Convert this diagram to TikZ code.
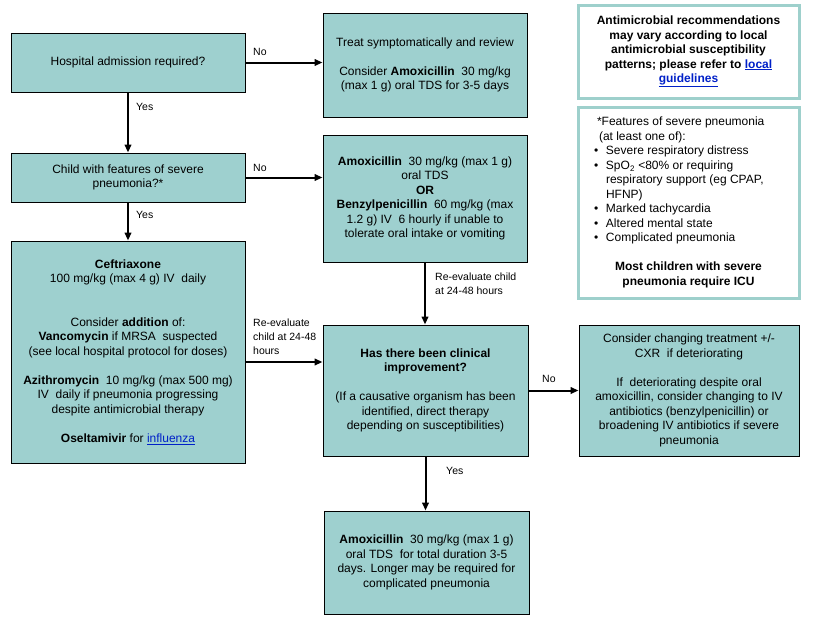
\documentclass[tikz,border=0pt]{standalone}
\usepackage{fontspec}
\setmainfont{Liberation Sans}
\usetikzlibrary{arrows.meta,calc}
\definecolor{boxfill}{RGB}{158,208,207}
\definecolor{infoline}{RGB}{158,208,204}
\definecolor{linkblue}{RGB}{0,32,200}
\newcommand{\lnk}[1]{\textcolor{linkblue}{\underline{#1}}}
\begin{document}
\begin{tikzpicture}[x=1pt,y=-1pt,
  box/.style={draw=black, line width=0.9pt, fill=boxfill, align=center, inner sep=0pt, font=\fontsize{12}{14.5}\selectfont},
  info/.style={draw=infoline, line width=3pt, fill=white, inner sep=0pt, font=\fontsize{12}{14.5}\selectfont},
  lbl/.style={anchor=west, inner sep=0pt, align=left, font=\fontsize{10.5}{14}\selectfont},
  arr/.style={line width=2pt, -{Triangle[length=8pt,width=6.5pt]}}
]
\useasboundingbox (0,0) rectangle (817,627);
\fill[white] (0,0) rectangle (817,627);

\node[box, minimum width=234pt, minimum height=59pt] (b1) at (128,62.5) {Hospital admission required?};
\node[box, minimum width=204pt, minimum height=104pt] (b2) at (425,65) {Treat symptomatically and review\\[14.5pt]Consider \textbf{Amoxicillin}~ 30 mg/kg\\(max 1 g) oral TDS for 3-5 days};
\node[box, minimum width=234pt, minimum height=49pt] (b3) at (128,177.5) {Child with features of severe\\pneumonia?*};
\node[box, minimum width=204pt, minimum height=127pt] (b4) at (425,198.5) {\textbf{Amoxicillin}~ 30 mg/kg (max 1 g)\\oral TDS\\\textbf{OR}\\\textbf{Benzylpenicillin}~ 60 mg/kg (max\\1.2 g) IV~ 6 hourly if unable to\\tolerate oral intake or vomiting};
\node[box, minimum width=234pt, minimum height=222pt] (b5) at (128,352) {\textbf{Ceftriaxone}\\100 mg/kg (max 4 g) IV~ daily\\[29pt]Consider \textbf{addition} of:\\\textbf{Vancomycin} if MRSA~ suspected\\(see local hospital protocol for doses)\\[14.5pt]\textbf{Azithromycin}~ 10 mg/kg (max 500 mg)\\IV~ daily if pneumonia progressing\\despite antimicrobial therapy\\[14.5pt]\textbf{Oseltamivir} for \lnk{influenza}};
\node[box, minimum width=205pt, minimum height=131pt] (b6) at (425.5,390.5) {\textbf{Has there been clinical}\\\textbf{improvement?}\\[14.5pt](If a causative organism has been\\identified, direct therapy\\depending on susceptibilities)};
\node[box, minimum width=220pt, minimum height=131pt] (b7) at (689,390.5) {Consider changing treatment +/-\\CXR~ if deteriorating\\[14.5pt]If~ deteriorating despite oral\\amoxicillin, consider changing to IV\\antibiotics (benzylpenicillin) or\\broadening IV antibiotics if severe\\pneumonia};
\node[box, minimum width=205pt, minimum height=103pt] (b8) at (426.5,562.5) {\textbf{Amoxicillin}~ 30 mg/kg (max 1 g)\\oral TDS~ for total duration 3-5\\days. Longer may be required for\\complicated pneumonia};

\node[info, minimum width=221pt, minimum height=93pt, align=center, font=\bfseries\fontsize{12}{14.5}\selectfont] (iA) at (688.5,51.5) {Antimicrobial recommendations\\may vary according to local\\antimicrobial susceptibility\\patterns; please refer to \lnk{local}\\\lnk{guidelines}};
\node[info, minimum width=221pt, minimum height=191pt] (iB) at (688.5,202.5) {\begin{minipage}{189pt}\raggedright
\hspace*{3pt}*Features of severe pneumonia\\
\hspace*{5pt}(at least one of):\\
\makebox[12pt][l]{\textbullet}Severe respiratory distress\\
\makebox[12pt][l]{\textbullet}SpO\textsubscript{2} <80\% or requiring\\
\hspace*{12pt}respiratory support (eg CPAP,\\
\hspace*{12pt}HFNP)\\
\makebox[12pt][l]{\textbullet}Marked tachycardia\\
\makebox[12pt][l]{\textbullet}Altered mental state\\
\makebox[12pt][l]{\textbullet}Complicated pneumonia\par
\vspace{14.5pt}
\centering\bfseries Most children with severe\\pneumonia require ICU
\end{minipage}};

\draw[arr] (b1.east) -- (b1.east -| b2.west);
\draw[arr] (b1.south) -- (b3.north);
\draw[arr] (b3.east) -- (b3.east -| b4.west);
\draw[arr] (b3.south) -- (b5.north);
\draw[arr] (b4.south) -- (b4.south |- b6.north);
\coordinate (r1) at (0,362);
\draw[arr] (b5.east |- r1) -- (b6.west |- r1);
\draw[arr] (b6.east) -- (b6.east -| b7.west);
\draw[arr] (b6.south) -- (b6.south |- b8.north);

\node[lbl] (n1) at (253,52) {No};
\node[lbl] (y1) at (136,107) {Yes};
\node[lbl] (n2) at (253,168) {No};
\node[lbl] (y2) at (136,215) {Yes};
\node[lbl] (re1) at (435,284) {Re-evaluate child\\at 24-48 hours};
\node[lbl] (re2) at (253,337) {Re-evaluate\\child at 24-48\\hours};
\node[lbl] (n3) at (542,379) {No};
\node[lbl] (y3) at (446,471) {Yes};
\end{tikzpicture}
\end{document}
